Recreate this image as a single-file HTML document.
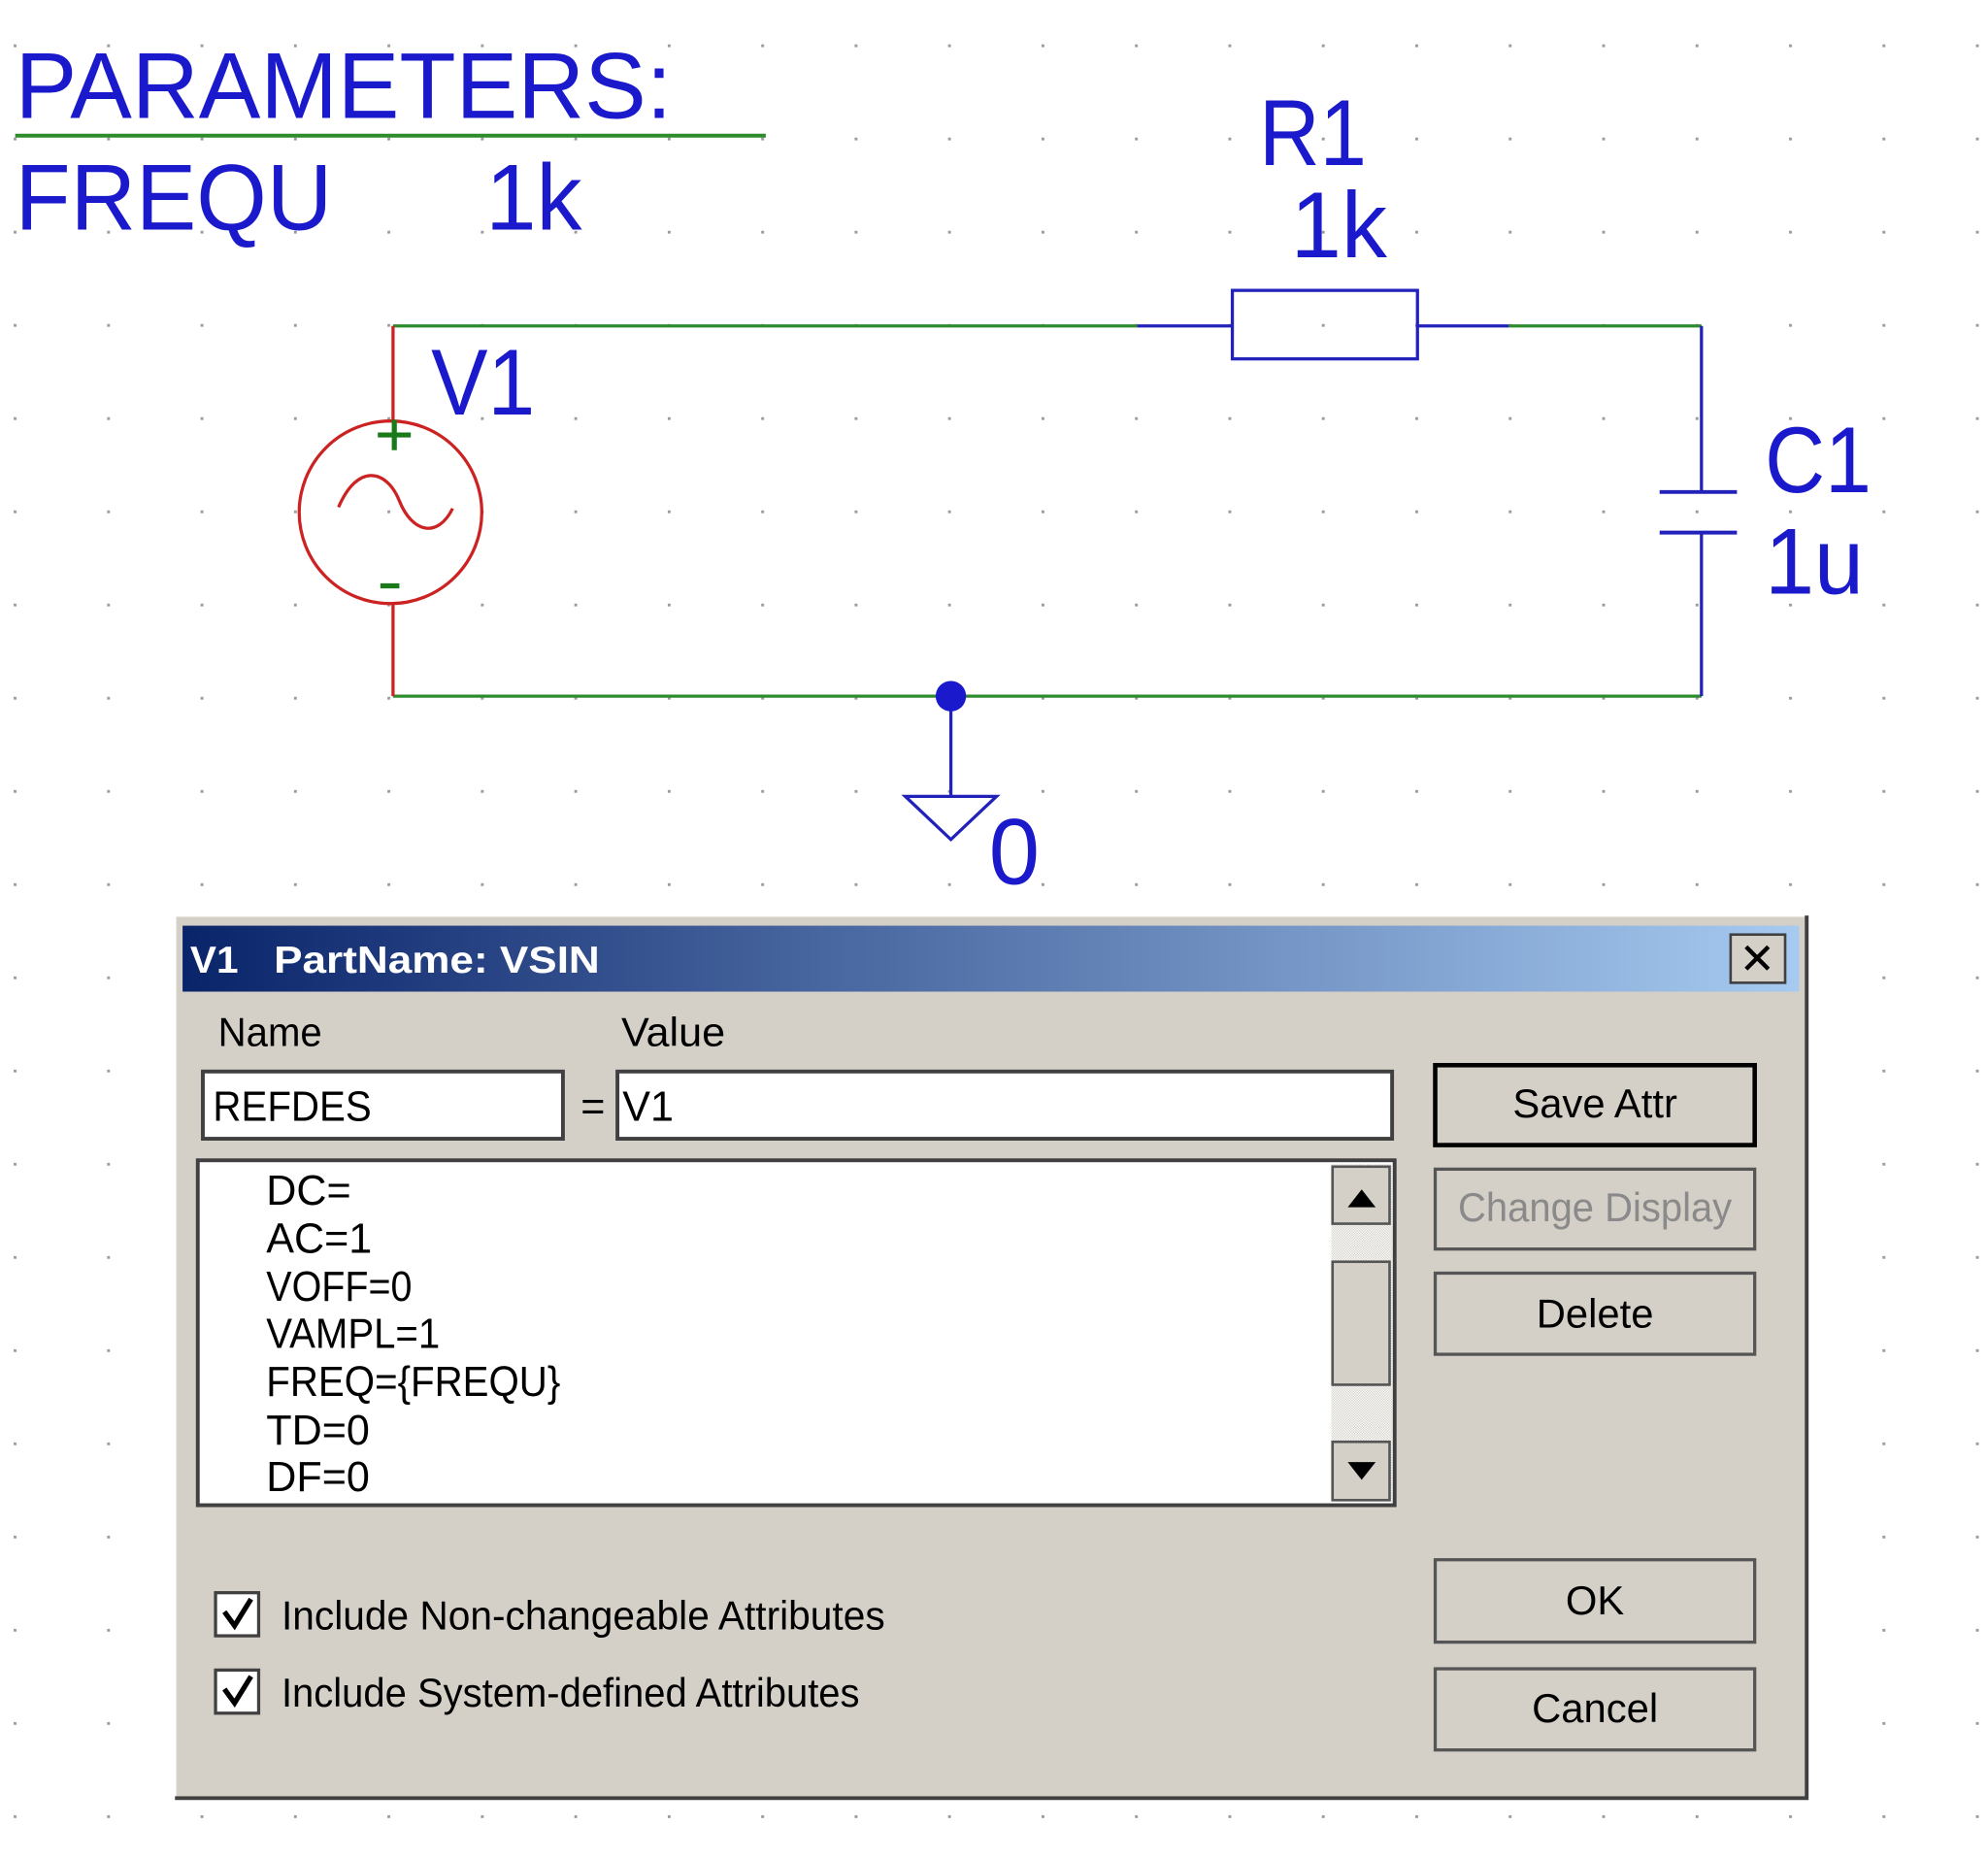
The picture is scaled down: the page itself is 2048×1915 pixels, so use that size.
<!DOCTYPE html>
<html><head><meta charset="utf-8"><style>html,body{margin:0;padding:0;background:#fff;overflow:hidden}svg{display:block}</style></head>
<body>
<svg width="2048" height="1915" viewBox="0 0 1568 1466" preserveAspectRatio="none" xmlns="http://www.w3.org/2000/svg" font-family="Liberation Sans, sans-serif">
<defs>
<pattern id="grid" patternUnits="userSpaceOnUse" width="73.7" height="73.5" patternTransform="translate(10.8,35)">
<rect x="0" y="0" width="2.2" height="2.2" fill="#9a9a9a"/>
</pattern>
<pattern id="dith" patternUnits="userSpaceOnUse" width="2" height="2"><rect width="2" height="2" fill="#fff"/><rect width="1" height="1" fill="#d4d0c8"/><rect x="1" y="1" width="1" height="1" fill="#d4d0c8"/></pattern>
<linearGradient id="tb" x1="0" x2="1" y1="0" y2="0"><stop offset="0" stop-color="#0a246a"/><stop offset="1" stop-color="#a6caf0"/></linearGradient>
</defs>
<rect width="1568" height="1466" fill="#fff"/>
<rect width="1568" height="1466" fill="url(#grid)"/>

<g fill="#1a1acc" font-size="74">
<text x="12" y="93" textLength="518" lengthAdjust="spacingAndGlyphs">PARAMETERS:</text>
<text x="12" y="181" textLength="250" lengthAdjust="spacingAndGlyphs">FREQU</text>
<text x="383" y="181" textLength="76" lengthAdjust="spacingAndGlyphs">1k</text>
<text x="993" y="130" textLength="85" lengthAdjust="spacingAndGlyphs">R1</text>
<text x="1018" y="203" textLength="76" lengthAdjust="spacingAndGlyphs">1k</text>
<text x="340" y="327" textLength="82" lengthAdjust="spacingAndGlyphs">V1</text>
<text x="1392" y="388" textLength="84" lengthAdjust="spacingAndGlyphs">C1</text>
<text x="1392" y="468" textLength="78" lengthAdjust="spacingAndGlyphs">1u</text>
<text x="780" y="697" textLength="40" lengthAdjust="spacingAndGlyphs">0</text>
</g>
<line x1="12" y1="107" x2="604" y2="107" stroke="#2e8b2e" stroke-width="3"/>

<g fill="none" stroke-width="2.5">
<line x1="310" y1="257" x2="897" y2="257" stroke="#2e8b2e"/>
<line x1="1190" y1="257" x2="1342" y2="257" stroke="#2e8b2e"/>
<line x1="310" y1="549" x2="1342" y2="549" stroke="#2e8b2e"/>
<line x1="897" y1="257" x2="972" y2="257" stroke="#2222bb"/>
<line x1="1118" y1="257" x2="1190" y2="257" stroke="#2222bb"/>
<rect x="972" y="229" width="146" height="54" stroke="#2222bb"/>
<line x1="1342" y1="257" x2="1342" y2="388" stroke="#2222bb"/>
<line x1="1342" y1="420" x2="1342" y2="549" stroke="#2222bb"/>
<line x1="1309" y1="388" x2="1370" y2="388" stroke="#2222bb" stroke-width="3"/>
<line x1="1309" y1="420" x2="1370" y2="420" stroke="#2222bb" stroke-width="3"/>
<line x1="750" y1="549" x2="750" y2="628" stroke="#2222bb"/>
<path d="M714 628 L786 628 L750 662 Z" stroke="#2222bb"/>
<line x1="310" y1="257" x2="310" y2="332" stroke="#cc2222"/>
<line x1="310" y1="476" x2="310" y2="549" stroke="#cc2222"/>
<circle cx="308" cy="404" r="72" stroke="#cc2222"/>
<path d="M267 400 C282 365 305 370 315 395 C325 420 345 425 357 401" stroke="#cc2222"/>
</g>
<circle cx="750" cy="549" r="12" fill="#1a1acc"/>
<g stroke="#1a7a1a" stroke-width="4"><line x1="298" y1="343" x2="324" y2="343"/><line x1="311" y1="331" x2="311" y2="355"/><line x1="300" y1="462" x2="315" y2="462"/></g>

<rect x="138" y="722" width="1287" height="696" fill="#d4d0c8"/>
<path d="M138 1418 V722 H1425" stroke="#fff" stroke-width="2" fill="none"/>
<path d="M138 1418 H1425 V722" stroke="#404040" stroke-width="3" fill="none"/>
<rect x="144" y="730" width="1275" height="52" fill="url(#tb)"/>
<text x="150" y="767" fill="#fff" font-weight="bold" font-size="30" textLength="38" lengthAdjust="spacingAndGlyphs">V1</text>
<text x="216" y="767" fill="#fff" font-weight="bold" font-size="30" textLength="257" lengthAdjust="spacingAndGlyphs">PartName: VSIN</text>
<rect x="1365" y="737" width="43" height="38" fill="#d4d0c8" stroke="#404040" stroke-width="2"/>
<text x="1386" y="768" text-anchor="middle" font-size="34" fill="#000">✕</text>

<g font-size="32" fill="#000">
<text x="172" y="825" textLength="82" lengthAdjust="spacingAndGlyphs">Name</text>
<text x="490" y="825" textLength="82" lengthAdjust="spacingAndGlyphs">Value</text>
</g>
<rect x="160" y="845" width="284" height="53" fill="#fff" stroke="#404040" stroke-width="3"/>
<rect x="487" y="845" width="611" height="53" fill="#fff" stroke="#404040" stroke-width="3"/>
<g font-size="33" fill="#000">
<text x="168" y="884" textLength="125" lengthAdjust="spacingAndGlyphs">REFDES</text>
<text x="458" y="884">=</text>
<text x="491" y="884">V1</text>
</g>
<rect x="156" y="915" width="944" height="272" fill="#fff" stroke="#404040" stroke-width="3"/>
<g font-size="33" fill="#000">
<text x="210" y="950">DC=</text>
<text x="210" y="988">AC=1</text>
<text x="210" y="1026" textLength="115" lengthAdjust="spacingAndGlyphs">VOFF=0</text>
<text x="210" y="1063" textLength="137" lengthAdjust="spacingAndGlyphs">VAMPL=1</text>
<text x="210" y="1101" textLength="232" lengthAdjust="spacingAndGlyphs">FREQ={FREQU}</text>
<text x="210" y="1139">TD=0</text>
<text x="210" y="1176">DF=0</text>
</g>
<rect x="1050" y="918" width="48" height="266" fill="url(#dith)"/>
<g fill="#d4d0c8" stroke="#555" stroke-width="2">
<rect x="1051" y="920" width="45" height="45"/>
<rect x="1051" y="995" width="45" height="97"/>
<rect x="1051" y="1137" width="45" height="46"/>
</g>
<path d="M1063 952 L1085 952 L1074 938 Z" fill="#000"/>
<path d="M1063 1153 L1085 1153 L1074 1167 Z" fill="#000"/>

<g fill="#d4d0c8" stroke="#555" stroke-width="2.5">
<rect x="1132" y="840" width="252" height="63" stroke="#000" stroke-width="3.5"/>
<rect x="1132" y="922" width="252" height="63"/>
<rect x="1132" y="1004" width="252" height="64"/>
<rect x="1132" y="1230" width="252" height="65"/>
<rect x="1132" y="1316" width="252" height="64"/>
</g>
<g font-size="32" fill="#000" text-anchor="middle">
<text x="1258" y="881">Save Attr</text>
<text x="1258" y="963" fill="#8a8a8a" textLength="216" lengthAdjust="spacingAndGlyphs">Change Display</text>
<text x="1258" y="1047">Delete</text>
<text x="1258" y="1273">OK</text>
<text x="1258" y="1358">Cancel</text>
</g>
<g fill="#fff" stroke="#404040" stroke-width="2.5">
<rect x="170" y="1256" width="34" height="34"/>
<rect x="170" y="1317" width="34" height="34"/>
</g>
<g fill="none" stroke="#000" stroke-width="4"><path d="M177 1271 L185 1282 L198 1261"/><path d="M177 1332 L185 1343 L198 1322"/></g>
<g font-size="32" fill="#000">
<text x="222" y="1285" textLength="476" lengthAdjust="spacingAndGlyphs">Include Non-changeable Attributes</text>
<text x="222" y="1346" textLength="456" lengthAdjust="spacingAndGlyphs">Include System-defined Attributes</text>
</g>
</svg>
</body></html>
